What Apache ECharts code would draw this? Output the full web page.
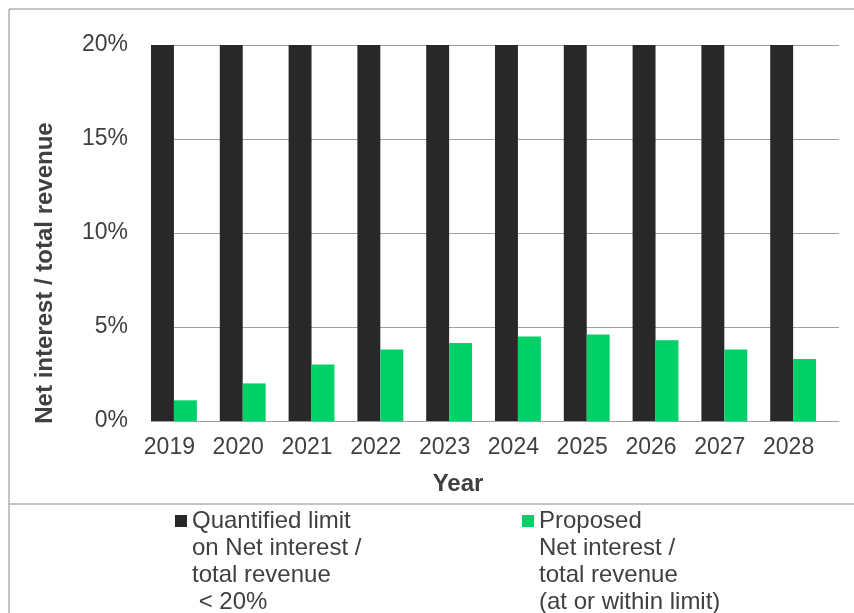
<!DOCTYPE html>
<html>
<head>
<meta charset="utf-8">
<script src="https://cdn.jsdelivr.net/npm/echarts@6/dist/echarts.min.js"></script>
<style>
  html, body { margin: 0; padding: 0; background: #fff; }
  #chart { width: 854px; height: 613px; }
</style>
</head>
<body>
<div id="chart"></div>
<script>
// Years on the category axis
const years = ['2019', '2020', '2021', '2022', '2023', '2024', '2025', '2026', '2027', '2028'];
// Quantified limit on net interest / total revenue (%)
const limitValues = [20, 20, 20, 20, 20, 20, 20, 20, 20, 20];
// Proposed net interest / total revenue (%)
const proposedValues = [1.1, 2.0, 3.0, 3.8, 4.15, 4.5, 4.6, 4.3, 3.8, 3.3];
// Y axis ticks (%)
const yTicks = { min: 0, max: 20, interval: 5 };

const limitName = 'Quantified limit on Net interest / total revenue < 20%';
const proposedName = 'Proposed Net interest / total revenue (at or within limit)';
const limitLegendLines = ['Quantified limit', 'on Net interest /', 'total revenue', ' < 20%'];
const proposedLegendLines = ['Proposed', 'Net interest /', 'total revenue', '(at or within limit)'];

const FONT = "'Liberation Sans', Arial, sans-serif";
const TEXT = '#404040';
const LINE_H = 27;

const chart = echarts.init(document.getElementById('chart'), null, { renderer: 'canvas' });

// Legend text is centred on its marker, so three empty lines above the
// label keep the marker level with the label's first line.
function legendFor(name, lines, left) {
  return {
    data: [name],
    left: left,
    top: 426.5,
    padding: 0,
    icon: 'rect',
    itemWidth: 12,
    itemHeight: 12,
    selectedMode: false,
    formatter: () => '\n\n\n' + lines.join('\n'),
    textStyle: {
      fontFamily: FONT,
      fontSize: 24,
      color: TEXT,
      lineHeight: LINE_H
    }
  };
}

chart.setOption({
  animation: false,
  backgroundColor: '#fff',
  grid: { left: 151, right: 15, top: 45, bottom: 192, containLabel: false },
  xAxis: {
    type: 'category',
    data: years,
    axisLine: { show: true, lineStyle: { color: '#a0a0a0', width: 1 } },
    axisTick: { show: false },
    axisLabel: {
      interval: 0,
      margin: 15,
      fontFamily: FONT,
      fontSize: 23,
      color: TEXT,
      padding: [0, 32, 0, 0]
    }
  },
  yAxis: {
    type: 'value',
    min: yTicks.min,
    max: yTicks.max,
    interval: yTicks.interval,
    axisLine: { show: false },
    axisTick: { show: false },
    axisLabel: {
      margin: 23,
      fontFamily: FONT,
      fontSize: 23,
      color: TEXT,
      formatter: '{value}%'
    },
    splitLine: { lineStyle: { color: '#a0a0a0', width: 1 } }
  },
  legend: [
    legendFor(limitName, limitLegendLines, 175),
    legendFor(proposedName, proposedLegendLines, 522)
  ],
  series: [
    {
      name: limitName,
      type: 'bar',
      data: limitValues,
      barGap: '0%',
      barCategoryGap: '0%',
      itemStyle: { color: '#282828' }
    },
    {
      name: proposedName,
      type: 'bar',
      data: proposedValues,
      itemStyle: { color: '#00d068' }
    },
    {
      // empty slot that leaves the gap on the right of each year
      name: 'spacer',
      type: 'bar',
      data: years.map(() => null),
      silent: true,
      itemStyle: { color: 'transparent' }
    }
  ],
  graphic: [
    { type: 'line', shape: { x1: 9, y1: 9, x2: 854, y2: 9 }, style: { stroke: '#8a8a8a', lineWidth: 1 } },
    { type: 'line', shape: { x1: 9, y1: 9, x2: 9, y2: 613 }, style: { stroke: '#8a8a8a', lineWidth: 1 } },
    { type: 'line', shape: { x1: 9, y1: 504, x2: 854, y2: 504 }, style: { stroke: '#8a8a8a', lineWidth: 1 } },
    {
      type: 'text',
      x: 45, y: 273,
      rotation: Math.PI / 2,
      style: {
        text: 'Net interest / total revenue',
        font: "bold 24px " + FONT,
        fill: TEXT,
        align: 'center',
        verticalAlign: 'middle'
      }
    },
    {
      type: 'text',
      x: 458, y: 484,
      style: {
        text: 'Year',
        font: "bold 24px " + FONT,
        fill: TEXT,
        align: 'center',
        verticalAlign: 'middle'
      }
    }
  ]
});
</script>
</body>
</html>
